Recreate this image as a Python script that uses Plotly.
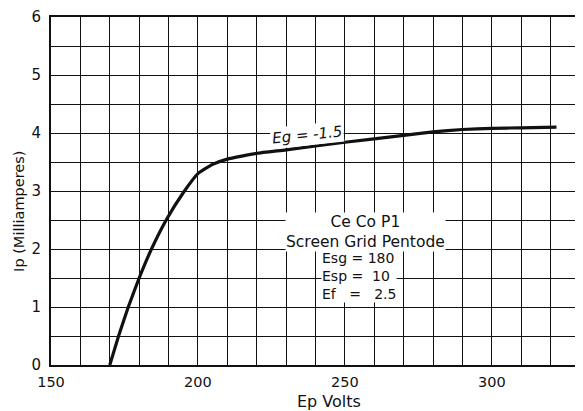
import plotly.graph_objects as go

# Plate voltage (V) vs plate current (mA), Eg = -1.5
ep_volts = [170, 173, 176.3, 180, 184.2, 189.2, 195, 200, 205, 210, 220, 230, 250, 270, 280, 290, 300, 310, 322]
ip_ma = [0, 0.5, 1.0, 1.5, 2.0, 2.5, 2.97, 3.3, 3.46, 3.55, 3.65, 3.71, 3.84, 3.96, 4.02, 4.06, 4.08, 4.09, 4.1]

x_ticks = [150, 200, 250, 300]
y_ticks = [0, 1, 2, 3, 4, 5, 6]

FONT = "DejaVu Sans"
INK = "#111111"

fig = go.Figure()

fig.add_trace(go.Scatter(
    x=ep_volts, y=ip_ma, mode="lines",
    line=dict(color=INK, width=3.2, shape="spline", smoothing=0.4),
    showlegend=False, hoverinfo="skip"
))

# curve label, slanted like the hand lettering
fig.add_annotation(
    x=237, y=3.97, text="<i>Eg = -1.5</i>", showarrow=False,
    textangle=-6, font=dict(family=FONT, size=15, color=INK),
    bgcolor="white", borderpad=1
)

# tube info block
fig.add_annotation(
    x=257, y=2.29, text="Ce Co P1<br>Screen Grid Pentode", showarrow=False,
    align="center", font=dict(family=FONT, size=15.5, color=INK),
    bgcolor="white", borderpad=0
)
fig.add_annotation(
    x=242, y=1.53, xanchor="left", align="left", showarrow=False,
    text="Esg = 180<br>Esp =\u00a0 10<br>Ef\u00a0\u00a0 =\u00a0\u00a0 2.5",
    font=dict(family=FONT, size=14, color=INK), bgcolor="white", borderpad=0
)

# axis titles
fig.add_annotation(
    x=0, y=0.44, xref="paper", yref="paper", xanchor="right", xshift=-22,
    text="Ip (Milliamperes)", textangle=-90, showarrow=False,
    font=dict(family=FONT, size=14.5, color=INK)
)
fig.add_annotation(
    x=0.526, y=0, xref="paper", yref="paper", yanchor="top", yshift=-25,
    text="Ep Volts", showarrow=False,
    font=dict(family=FONT, size=16, color=INK)
)

fig.update_xaxes(
    range=[150, 330], tickmode="array", tickvals=x_ticks,
    ticks="", showgrid=True, gridcolor=INK, gridwidth=1.4,
    minor=dict(tickmode="linear", tick0=150, dtick=10, showgrid=True,
               gridcolor=INK, gridwidth=1.4),
    showline=True, linecolor=INK, linewidth=2, mirror=True, zeroline=False,
    tickfont=dict(family=FONT, size=14.5, color=INK), ticklabelstandoff=3,
    automargin=False
)
fig.update_yaxes(
    range=[0, 6], tickmode="array", tickvals=y_ticks,
    ticks="", showgrid=True, gridcolor=INK, gridwidth=1.4,
    minor=dict(tickmode="linear", tick0=0, dtick=0.5, showgrid=True,
               gridcolor=INK, gridwidth=1.4),
    showline=True, linecolor=INK, linewidth=2, mirror=True, zeroline=False,
    tickfont=dict(family=FONT, size=15, color=INK), ticklabelstandoff=5,
    automargin=False
)

# the page body keeps its default 8px margin, so the figure is sized to fit
fig.update_layout(
    width=575, height=403,
    margin=dict(l=43, r=3, t=9, b=46),
    plot_bgcolor="white", paper_bgcolor="white",
    showlegend=False
)

fig.write_html("out.html")
